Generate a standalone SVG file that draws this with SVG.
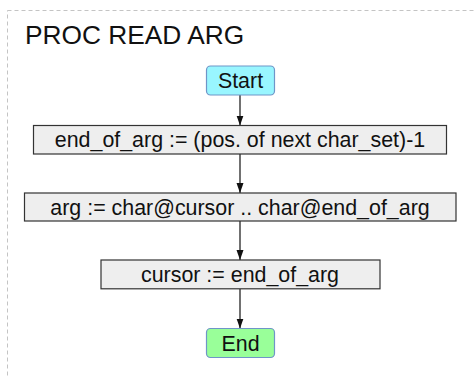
<svg xmlns="http://www.w3.org/2000/svg" width="476" height="378" viewBox="0 0 476 378">
<style>
text{font-family:"Liberation Sans",Arial,sans-serif;font-size:21.4px;fill:#111;text-anchor:middle}
.title{font-size:26.3px;text-anchor:start}
.box{fill:#eeeeee;stroke:#333;stroke-width:1.2}
.term{stroke:#6f95c8;stroke-width:1.2}
.edge{stroke:#111;stroke-width:1.2;fill:none;marker-end:url(#arr)}
</style>
<defs>
<marker id="arr" markerUnits="userSpaceOnUse" markerWidth="10" markerHeight="8" refX="10" refY="3.5" orient="auto">
<path d="M0,0 L10,3.5 L0,7 z" fill="#111"/>
</marker>
</defs>
<rect x="7.5" y="10.5" width="500" height="400" fill="none" stroke="#c4c4c4" stroke-dasharray="4 3"/>
<text class="title" x="25" y="43.5">PROC READ ARG</text>
<g id="connectors">
<line class="edge" x1="240" y1="95" x2="240" y2="125.5"/>
<line class="edge" x1="240" y1="154" x2="240" y2="193"/>
<line class="edge" x1="240" y1="221" x2="240" y2="260"/>
<line class="edge" x1="240" y1="289" x2="240" y2="328.5"/>
</g>
<g id="start">
<rect class="term" x="206.5" y="66" width="68" height="29" rx="4" fill="#99f6ff"/>
<text x="240.5" y="88">Start</text>
</g>
<g id="step1">
<rect class="box" x="33.5" y="125.5" width="413" height="28.5"/>
<text x="240" y="147">end_of_arg := (pos. of next char_set)-1</text>
</g>
<g id="step2">
<rect class="box" x="24.5" y="193" width="431.5" height="28"/>
<text x="240" y="214.5">arg := char@cursor .. char@end_of_arg</text>
</g>
<g id="step3">
<rect class="box" x="101" y="260" width="279" height="28.8"/>
<text x="240" y="281.8">cursor := end_of_arg</text>
</g>
<g id="end">
<rect class="term" x="206.5" y="328.5" width="68" height="29" rx="4" fill="#99ff99"/>
<text x="240.5" y="350.5">End</text>
</g>
</svg>
